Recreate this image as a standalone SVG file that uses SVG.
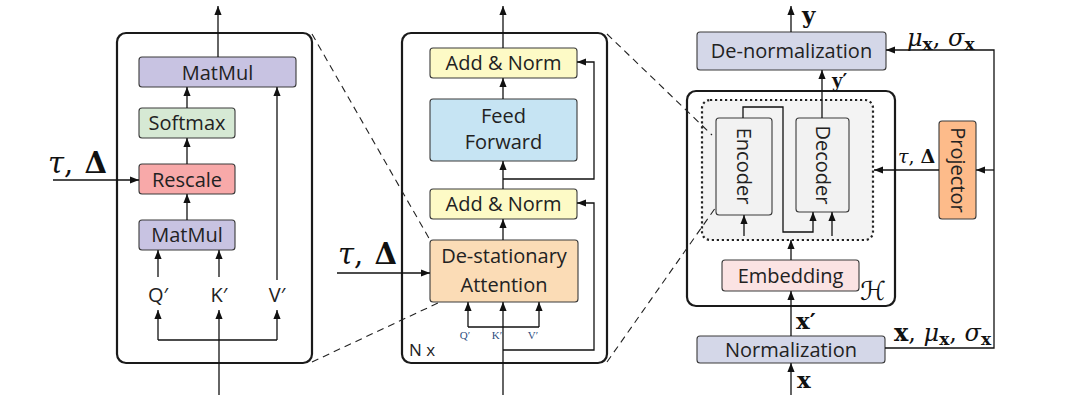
<svg xmlns="http://www.w3.org/2000/svg" width="1080" height="407" viewBox="0 0 1080 407">
<style>
.outer{fill:#fff;stroke:#1a1a1a;stroke-width:2.2}
.box{stroke:#3a3a3a;stroke-width:1.1}
.lbl{font-family:"Open Sans","DejaVu Sans",sans-serif;font-size:20px;fill:#222;text-anchor:middle}
.math{font-family:"DejaVu Serif","Liberation Serif",serif;fill:#111}
.ln{fill:none;stroke:#111;stroke-width:1.3}
.arr{fill:none;stroke:#111;stroke-width:1.3;marker-end:url(#ah)}
.dash{fill:none;stroke:#222;stroke-width:1.1;stroke-dasharray:7,5}
.sm{font-family:"Liberation Serif","DejaVu Serif",serif;font-size:11px;fill:#2f4f7f;text-anchor:middle}
</style>
<defs>
<marker id="ah" viewBox="0 0 10 8" refX="10" refY="4" markerWidth="9" markerHeight="8" markerUnits="userSpaceOnUse" orient="auto">
<path d="M0,0 L10,4 L0,8 z" fill="#111"/>
</marker>
</defs>
<rect width="1080" height="407" fill="#fff"/>

<!-- Left panel: attention detail -->
<g id="attn-panel">
<rect class="outer" x="117" y="33" width="195" height="330" rx="9"/>
</g>
<g id="matmul-top"><rect class="box" x="139" y="57" width="157" height="30" rx="3" fill="#c8c3e2"/><text class="lbl" x="217.5" y="80">MatMul</text></g>
<g id="softmax"><rect class="box" x="139" y="108" width="96" height="30" rx="3" fill="#d6e9d4"/><text class="lbl" x="187" y="130">Softmax</text></g>
<g id="rescale"><rect class="box" x="139" y="164" width="96" height="30" rx="3" fill="#f8a9a9"/><text class="lbl" x="187" y="187">Rescale</text></g>
<g id="matmul-bot"><rect class="box" x="139" y="220" width="96" height="30" rx="3" fill="#c8c3e2"/><text class="lbl" x="187" y="242">MatMul</text></g>
<g id="qkv-left">
<text class="lbl" x="158" y="302">Q′</text>
<text class="lbl" x="219" y="302">K′</text>
<text class="lbl" x="277" y="302">V′</text>
</g>
<g id="tau-left"><text class="math" x="48" y="173" font-size="29"><tspan font-style="italic">τ</tspan>, <tspan font-weight="bold" dx="2">Δ</tspan></text></g>

<!-- Middle panel: encoder layer -->
<g id="layer-panel">
<rect class="outer" x="402" y="33" width="205" height="330" rx="9"/>
<text x="409" y="356" font-family="'Open Sans','DejaVu Sans',sans-serif" font-size="17" fill="#222">N x</text>
</g>
<g id="addnorm-top"><rect class="box" x="430" y="48" width="147" height="30" rx="3" fill="#fdfac6"/><text class="lbl" x="503.5" y="70">Add &amp; Norm</text></g>
<g id="feedforward"><rect class="box" x="430" y="99" width="147" height="62" rx="3" fill="#c6e4f3"/><text class="lbl" x="503.5" y="123">Feed</text><text class="lbl" x="503.5" y="149">Forward</text></g>
<g id="addnorm-bot"><rect class="box" x="430" y="189" width="147" height="30" rx="3" fill="#fdfac6"/><text class="lbl" x="503.5" y="211">Add &amp; Norm</text></g>
<g id="dsattention"><rect class="box" x="430" y="240" width="148" height="62" rx="3" fill="#fbdcb6"/><text class="lbl" x="504" y="263">De-stationary</text><text class="lbl" x="504" y="292">Attention</text></g>
<g id="qkv-mid">
<text class="sm" x="465" y="339">Q′</text>
<text class="sm" x="497" y="339">K′</text>
<text class="sm" x="533" y="339">V′</text>
</g>
<g id="tau-mid"><text class="math" x="338" y="264" font-size="29"><tspan font-style="italic">τ</tspan>, <tspan font-weight="bold" dx="2">Δ</tspan></text></g>

<!-- Right panel: overall framework -->
<g id="denorm"><rect class="box" x="697" y="32" width="189" height="38" rx="3" fill="#d4d7e8"/><text class="lbl" x="791.5" y="58">De-normalization</text></g>
<g id="norm"><rect class="box" x="697" y="336" width="188" height="27" rx="3" fill="#d4d7e8"/><text class="lbl" x="791" y="357">Normalization</text></g>
<g id="h-model">
<rect class="outer" x="687" y="91" width="208" height="215" rx="9"/>
<text x="873" y="300" font-family="'DejaVu Sans',sans-serif" font-size="26" fill="#111" text-anchor="middle">ℋ</text>
</g>
<g id="enc-dec-group"><rect x="702" y="100" width="171" height="140" rx="8" fill="#f3f3f3" stroke="#222" stroke-width="2.2" stroke-dasharray="2.2,2.8"/></g>
<g id="embedding"><rect class="box" x="722" y="260" width="137" height="31" rx="3" fill="#fbe3e3"/><text class="lbl" x="790.5" y="283">Embedding</text></g>
<g id="encoder"><rect class="box" x="716" y="118" width="56" height="97" rx="3" fill="#f2f2f2"/><text class="lbl" x="744" y="166" dy="7" transform="rotate(90 744 166)">Encoder</text></g>
<g id="decoder"><rect class="box" x="796" y="118" width="53" height="94" rx="3" fill="#f2f2f2"/><text class="lbl" x="822.5" y="165" dy="7" transform="rotate(90 822.5 165)">Decoder</text></g>
<g id="projector"><rect class="box" x="939" y="121" width="37" height="98" rx="3" fill="#fdbb8a"/><text class="lbl" x="957.5" y="170" dy="7" transform="rotate(90 957.5 170)">Projector</text></g>
<g id="right-labels">
<text class="math" x="802" y="23" font-size="23" font-weight="bold">y</text>
<text class="math" x="832" y="87" font-size="18" font-weight="bold">y′</text>
<text class="math" x="797" y="388" font-size="23" font-weight="bold">x</text>
<text class="math" x="796" y="329" font-size="23" font-weight="bold">x′</text>
<text class="math" x="907" y="46" font-size="24"><tspan font-style="italic">μ</tspan><tspan font-weight="bold" font-size="17" dy="4">x</tspan><tspan dy="-4">, </tspan><tspan font-style="italic">σ</tspan><tspan font-weight="bold" font-size="17" dy="4">x</tspan></text>
<text class="math" x="894" y="341" font-size="24"><tspan font-weight="bold">x</tspan>, <tspan font-style="italic">μ</tspan><tspan font-weight="bold" font-size="17" dy="4">x</tspan><tspan dy="-4">, </tspan><tspan font-style="italic">σ</tspan><tspan font-weight="bold" font-size="17" dy="4">x</tspan></text>
<text class="math" x="898" y="163" font-size="19"><tspan font-style="italic">τ</tspan>, <tspan font-weight="bold">Δ</tspan></text>
</g>

<g id="connectors">
<!-- left -->
<line class="arr" x1="218" y1="57" x2="218" y2="6"/>
<line class="arr" x1="187" y1="108" x2="187" y2="87"/>
<line class="arr" x1="187" y1="164" x2="187" y2="138"/>
<line class="arr" x1="187" y1="220" x2="187" y2="194"/>
<line class="arr" x1="158" y1="277" x2="158" y2="250"/>
<line class="arr" x1="219" y1="277" x2="219" y2="250"/>
<line class="arr" x1="277" y1="280" x2="277" y2="87"/>
<path class="ln" d="M158,340 H277"/>
<line class="arr" x1="158" y1="340" x2="158" y2="310"/>
<line class="arr" x1="277" y1="340" x2="277" y2="310"/>
<line class="arr" x1="219" y1="395" x2="219" y2="310"/>
<line class="arr" x1="53" y1="180" x2="139" y2="180"/>
<!-- middle -->
<line class="arr" x1="503" y1="48" x2="503" y2="6"/>
<line class="arr" x1="503" y1="99" x2="503" y2="78"/>
<line class="arr" x1="503" y1="189" x2="503" y2="161"/>
<line class="arr" x1="503" y1="240" x2="503" y2="219"/>
<path class="arr" d="M503,179 H594 V62 H577"/>
<path class="arr" d="M503,350 H594 V203 H577"/>
<line class="arr" x1="503" y1="395" x2="503" y2="302"/>
<path class="ln" d="M468,327 H539"/>
<line class="arr" x1="468" y1="327" x2="468" y2="302"/>
<line class="arr" x1="539" y1="327" x2="539" y2="302"/>
<line class="arr" x1="337" y1="273" x2="430" y2="273"/>
<!-- right -->
<line class="arr" x1="791" y1="32" x2="791" y2="6"/>
<line class="arr" x1="791" y1="395" x2="791" y2="363"/>
<line class="arr" x1="791" y1="336" x2="791" y2="291"/>
<line class="arr" x1="791" y1="260" x2="791" y2="240"/>
<line class="arr" x1="744" y1="236" x2="744" y2="215"/>
<line class="arr" x1="832" y1="236" x2="832" y2="212"/>
<path class="arr" d="M743,118 V107 H783 V232 H813 V212"/>
<line class="arr" x1="822" y1="118" x2="822" y2="70"/>
<path class="ln" d="M885,348 H994 V170"/>
<path class="arr" d="M994,170 V50 H886"/>
<line class="arr" x1="994" y1="170" x2="976" y2="170"/>
<line class="arr" x1="939" y1="170" x2="874" y2="170"/>
<!-- zoom dashed lines -->
<line class="dash" x1="312" y1="34" x2="430" y2="240"/>
<line class="dash" x1="312" y1="362" x2="438" y2="303"/>
<line class="dash" x1="607" y1="34" x2="712" y2="135"/>
<line class="dash" x1="607" y1="362" x2="716" y2="207"/>
</g>
</svg>
